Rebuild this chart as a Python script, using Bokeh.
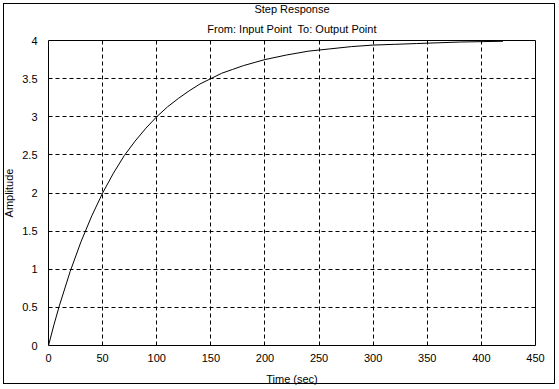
from bokeh.plotting import figure
from bokeh.models import Title, FixedTicker, Range1d
from bokeh.embed import file_html
from bokeh.resources import INLINE

# Step response
time_s = [0, 5, 10, 20, 30, 40, 50, 60, 70, 80, 90, 100, 110, 120, 130, 140,
          150, 160, 170, 180, 190, 200, 220, 240, 260, 280, 300, 320, 340,
          360, 380, 400, 420]
amplitude = [0.0, 0.27, 0.52, 0.97, 1.36, 1.70, 2.00, 2.26, 2.49, 2.68, 2.85,
             3.00, 3.13, 3.24, 3.34, 3.43, 3.50, 3.57, 3.62, 3.67, 3.71, 3.75,
             3.81, 3.86, 3.89, 3.92, 3.94, 3.95, 3.96, 3.97, 3.98, 3.985, 3.99]

x_ticks = [0, 50, 100, 150, 200, 250, 300, 350, 400, 450]
y_ticks = [0, 0.5, 1, 1.5, 2, 2.5, 3, 3.5, 4]

title_main = "Step Response"
title_sub = "From: Input Point\u00a0 To: Output Point"
x_label = "Time (sec)"
y_label = "Amplitude"

FONT = "Liberation Sans"

p = figure(width=558, height=387, output_backend="svg", toolbar_location=None,
           x_range=Range1d(0, 450), y_range=Range1d(0, 4),
           min_border_left=45, min_border_right=23, min_border_top=40,
           min_border_bottom=39)

p.title.text = title_main
p.title.align = "center"
p.title.text_font = FONT
p.title.text_font_size = "11px"
p.title.text_font_style = "normal"
p.title.text_color = "black"
p.title.standoff = -1
p.title.offset = 0
p.add_layout(Title(text=title_sub, align="center", text_font=FONT,
                   text_font_size="11px", text_font_style="normal",
                   text_color="black", standoff=12), "above")

p.line(time_s, amplitude, line_color="black", line_width=1)

for ax in (p.xaxis[0], p.yaxis[0]):
    ax.axis_line_color = None
    ax.major_tick_line_color = None
    ax.minor_tick_line_color = None
    ax.major_label_text_font = FONT
    ax.major_label_text_font_size = "11px"
    ax.major_label_text_color = "black"
    ax.axis_label_text_font = FONT
    ax.axis_label_text_font_size = "11px"
    ax.axis_label_text_font_style = "normal"
    ax.axis_label_text_color = "black"

p.xaxis.ticker = FixedTicker(ticks=x_ticks)
p.yaxis.ticker = FixedTicker(ticks=y_ticks)
p.xaxis.axis_label = x_label
p.yaxis.axis_label = y_label
p.xaxis.major_label_standoff = 2
p.yaxis.major_label_standoff = 5
p.xaxis.axis_label_standoff = 8
p.yaxis.axis_label_standoff = 4

p.grid.grid_line_color = "black"
p.grid.grid_line_dash = "4 3"
p.grid.grid_line_width = 1
p.grid.grid_line_alpha = 1

p.outline_line_color = "black"
p.outline_line_width = 1
p.outline_line_alpha = 1
p.background_fill_color = "white"
p.border_fill_color = None

# outer window frame, drawn by the page behind the transparent border area
p.styles = {"outline": "1px solid black", "outline-offset": "-4px",
            "background-color": "white"}

open("out.html", "w").write(file_html(p, INLINE))
